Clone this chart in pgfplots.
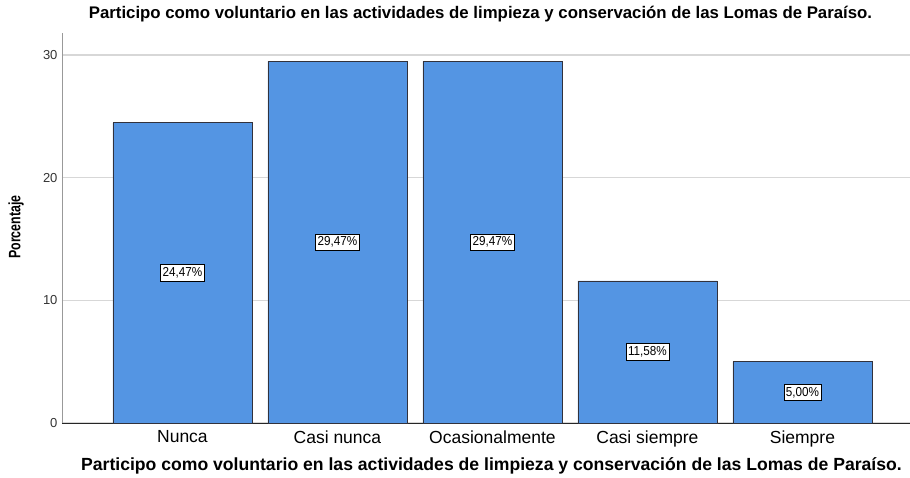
\documentclass[border=0pt]{standalone}
\usepackage{fontspec}
\setmainfont{Liberation Sans}
\newfontfamily\narrowfont[FakeStretch=0.75]{Liberation Sans}
\newfontfamily\semifont[FakeStretch=0.9]{Liberation Sans}
\usepackage{pgfplots}
\pgfplotsset{compat=1.18}
\definecolor{barblue}{RGB}{84,149,227}
\definecolor{gridgray}{RGB}{215,215,215}
\definecolor{edgegray}{RGB}{50,50,60}
\begin{document}
\begin{tikzpicture}[x=1pt,y=1pt]
\path[use as bounding box] (-62,-54) rectangle (848,423);
\begin{axis}[
  at={(0,0)}, anchor=south west,
  scale only axis, width=848pt, height=390pt,
  xmin=-0.777, xmax=4.694, ymin=0, ymax=31.79,
  axis lines*=left,
  x axis line style={draw=black!85, line width=0.9pt},
  y axis line style={draw=black!40, line width=0.9pt},
  xtick=data,
  xticklabels={Nunca,Casi nunca,Ocasionalmente,Casi siempre,Siempre},
  ytick={0,10,20,30},
  major tick length=0pt,
  ymajorgrids, grid style={draw=gridgray, line width=1.2pt},
  x tick label style={font=\fontsize{17.5}{19}\selectfont, yshift=-4pt},
  y tick label style={font=\fontsize{13}{15}\selectfont, xshift=-1pt, text=black!80},
  /pgf/number format/assume math mode=true,
  clip=false,
]
\addplot[ybar, bar width=139pt, fill=barblue, draw=edgegray, line width=0.8pt]
  coordinates {(0,24.47) (1,29.47) (2,29.47) (3,11.58) (4,5.00)};
\addplot[only marks, mark=none, point meta=explicit symbolic,
  nodes near coords,
  every node near coord/.style={anchor=center, fill=white, draw=black, line width=0.6pt,
    inner xsep=2pt, inner ysep=3pt, font=\semifont\fontsize{13}{15}\selectfont}]
  table[meta=lab] {
x y lab
0 12.235 24,47\%
1 14.735 29,47\%
2 14.735 29,47\%
3 5.79 11,58\%
4 2.50 5,00\%
};
\end{axis}
\node[font=\bfseries\fontsize{16.8}{19}\selectfont] at (418.5,409) {Participo como voluntario en las actividades de limpieza y conservación de las Lomas de Paraíso.};
\node[font=\bfseries\fontsize{17.6}{19}\selectfont] at (429.5,-43) {Participo como voluntario en las actividades de limpieza y conservación de las Lomas de Paraíso.};
\node[rotate=90, font=\narrowfont\bfseries\fontsize{16.5}{18}\selectfont] at (-46,196) {Porcentaje};
\end{tikzpicture}
\end{document}
